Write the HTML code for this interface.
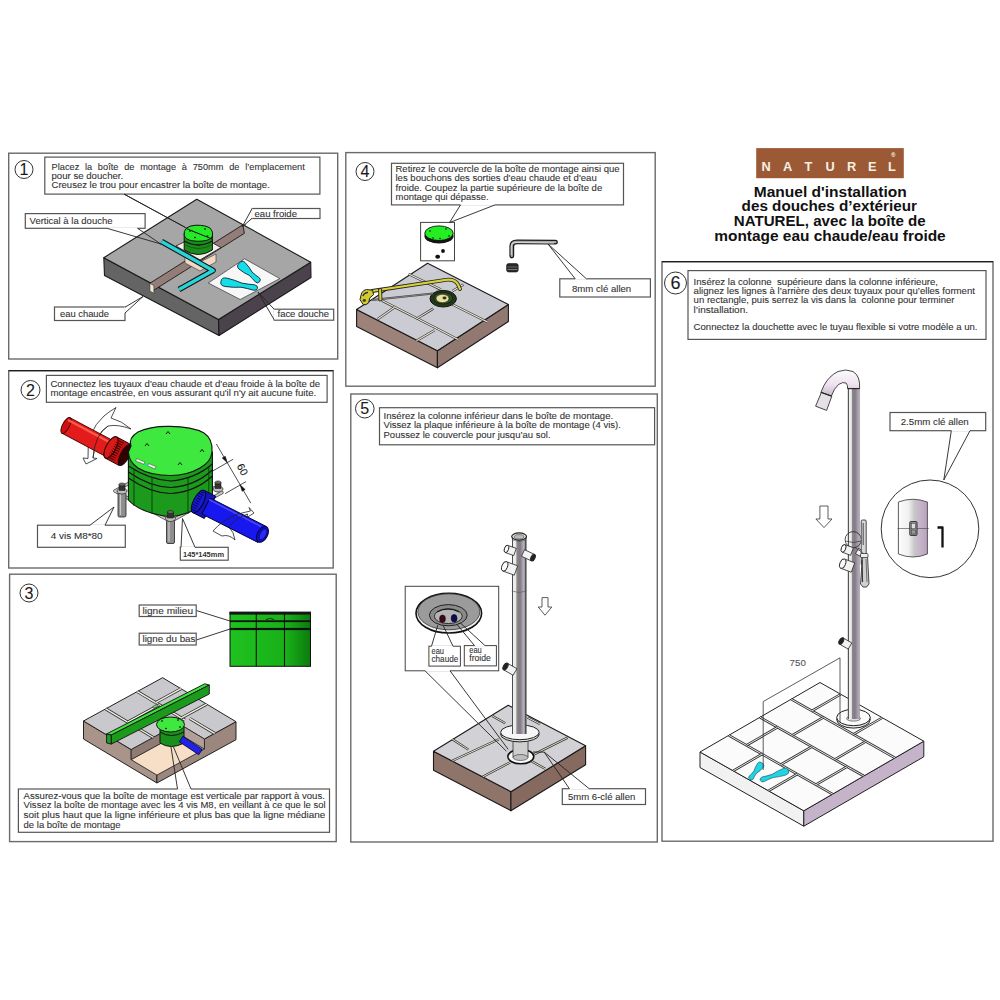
<!DOCTYPE html>
<html><head><meta charset="utf-8"><style>
html,body{margin:0;padding:0;background:#fff;}
svg{display:block;font-family:"Liberation Sans", sans-serif;}
text{white-space:pre;}
</style></head><body>
<svg width="1000" height="1000" viewBox="0 0 1000 1000">
<rect width="1000" height="1000" fill="#fff"/>
<rect x="8.7" y="153.2" width="329.0" height="205.8" fill="none" stroke="#6a6a6a" stroke-width="1.4"/>
<rect x="8.7" y="370.7" width="324.5" height="197.3" fill="none" stroke="#6a6a6a" stroke-width="1.4"/>
<rect x="9.6" y="574.2" width="326.6" height="267.4" fill="none" stroke="#6a6a6a" stroke-width="1.4"/>
<rect x="345.8" y="152.6" width="309.4" height="233.6" fill="none" stroke="#6a6a6a" stroke-width="1.4"/>
<rect x="350.8" y="394" width="306.5" height="448.0" fill="none" stroke="#6a6a6a" stroke-width="1.4"/>
<rect x="662" y="261.7" width="331.0" height="579.5" fill="none" stroke="#6a6a6a" stroke-width="1.4"/>
<line x1="662" y1="261.7" x2="993" y2="261.7" stroke="#1e1e1e" stroke-width="1.2"/>
<line x1="8.7" y1="370.7" x2="333.2" y2="370.7" stroke="#1e1e1e" stroke-width="1.2"/>
<rect x="756.2" y="148.1" width="147.6" height="30.1" fill="#9b5a35"/>
<text x="766" y="171.2" font-size="12.8" font-weight="bold" text-anchor="middle" fill="#f6efe6">N</text>
<text x="787.7" y="171.2" font-size="12.8" font-weight="bold" text-anchor="middle" fill="#f6efe6">A</text>
<text x="808.4" y="171.2" font-size="12.8" font-weight="bold" text-anchor="middle" fill="#f6efe6">T</text>
<text x="830" y="171.2" font-size="12.8" font-weight="bold" text-anchor="middle" fill="#f6efe6">U</text>
<text x="851.6" y="171.2" font-size="12.8" font-weight="bold" text-anchor="middle" fill="#f6efe6">R</text>
<text x="872.3" y="171.2" font-size="12.8" font-weight="bold" text-anchor="middle" fill="#f6efe6">E</text>
<text x="892" y="171.2" font-size="12.8" font-weight="bold" text-anchor="middle" fill="#f6efe6">L</text>
<text x="893.3" y="156.6" font-size="5.5" text-anchor="middle" fill="#f0e6da" stroke="#f0e6da" stroke-width="0.1">®</text>
<text x="753.8" y="196.6" font-size="13.8" textLength="152.9" lengthAdjust="spacingAndGlyphs" font-weight="bold" fill="#111">Manuel d'installation</text>
<text x="741.6" y="211.4" font-size="13.8" textLength="175.4" lengthAdjust="spacingAndGlyphs" font-weight="bold" fill="#111">des douches d’extérieur</text>
<text x="733.8" y="226.2" font-size="13.8" textLength="191.9" lengthAdjust="spacingAndGlyphs" font-weight="bold" fill="#111">NATUREL, avec la boîte de</text>
<text x="714.3" y="241.3" font-size="13.8" textLength="231.4" lengthAdjust="spacingAndGlyphs" font-weight="bold" fill="#111">montage eau chaude/eau froide</text>
<polygon points="103.8,257.7 218.5,319.5 219.0,335.5 104.5,275.5" fill="#646464" stroke="#1a1a1a" stroke-width="1.1" stroke-linejoin="round"/>
<polygon points="218.5,319.5 310.7,262.2 311.0,277.5 219.0,335.5" fill="#4b434b" stroke="#1a1a1a" stroke-width="1.1" stroke-linejoin="round"/>
<polygon points="196.8,199.3 310.7,262.2 218.5,319.5 103.8,257.7" fill="#a6a6a6" stroke="#1a1a1a" stroke-width="1.1" stroke-linejoin="round"/>
<polygon points="242.9,224.8 149.9,283.2 151.4,291.7 244.4,233.3" fill="#947c79" stroke="#1a1a1a" stroke-width="0.9" stroke-linejoin="round"/>
<polygon points="149.9,283.2 153.9,285.7 153.9,293.2 149.9,291.2" fill="#efe6d6" stroke="#333" stroke-width="0.6" stroke-linejoin="round"/>
<polygon points="242.9,224.8 245.9,226.3 245.9,224.3" fill="#555" stroke="none" stroke-width="0" stroke-linejoin="round"/>
<polygon points="176.0,246.0 198.0,235.0 221.0,247.5 200.0,260.0" fill="#f4efe6" stroke="#222" stroke-width="0.9" stroke-linejoin="round"/>
<polygon points="185.0,255.0 200.0,262.0 216.0,254.0 216.0,262.0 200.0,271.0 185.0,263.0" fill="#f0d9c4" stroke="#333" stroke-width="0.6" stroke-linejoin="round"/>
<path d="M184.2,233 L184.2,250 Q198.3,259 212.4,250 L212.4,233 Z" fill="#1b8c1b" stroke="#111" stroke-width="1"/>
<path d="M184.2,241 Q198.3,249 212.4,241" fill="none" stroke="#111" stroke-width="1.4"/>
<path d="M184.2,244.5 Q198.3,252.5 212.4,244.5" fill="none" stroke="#0b3d10" stroke-width="0.6"/>
<path d="M186,228.5 Q189,225.5 196,225.2 Q206,225 210.5,228.5 Q213.5,232 212.4,236 Q211,240 203,241 Q198,241.6 192,240.8 Q185.5,239.5 184.3,235.5 Q183.6,231 186,228.5 Z" fill="#26ea26" stroke="#111" stroke-width="1"/>
<line x1="186.4" y1="228.6" x2="212" y2="239" stroke="#111" stroke-width="1.0"/>
<ellipse cx="190" cy="231" rx="1" ry="0.7" fill="#111" stroke="none" stroke-width="0"/>
<ellipse cx="205" cy="229" rx="1" ry="0.7" fill="#111" stroke="none" stroke-width="0"/>
<ellipse cx="195" cy="237.5" rx="1" ry="0.7" fill="#111" stroke="none" stroke-width="0"/>
<ellipse cx="207.5" cy="236" rx="1" ry="0.7" fill="#111" stroke="none" stroke-width="0"/>
<polyline points="161.5,241.5 213.0,270.5 179.0,289.5" fill="none" stroke="#111" stroke-width="5.6" stroke-linejoin="round"/>
<polyline points="161.5,241.5 213.0,270.5 179.0,289.5" fill="none" stroke="#27d4d8" stroke-width="3.6" stroke-linejoin="round"/>
<polygon points="208.3,283.0 244.6,258.8 279.8,278.6 240.2,299.5" fill="#f7f7f7" stroke="#333" stroke-width="0.7" stroke-linejoin="round"/>
<path d="M239.0,269.1 Q243.9,273.0 249.0,275.2 Q252.9,278.8 255.6,282.1 Q257.5,283.8 259.5,281.8 Q261.3,279.6 259.4,277.9 Q255.9,275.5 252.0,272.0 Q249.4,267.1 245.0,262.5 Q241.9,259.6 239.2,263.2 Q235.9,266.3 239.0,269.1 Z" fill="#14dfe9" stroke="#123" stroke-width="0.9"/>
<path d="M225.2,286.5 Q233.7,287.7 241.0,287.2 Q248.0,288.5 253.5,290.2 Q256.9,290.8 257.6,288.2 Q257.9,285.5 254.5,284.8 Q248.8,284.4 241.8,283.1 Q235.1,280.1 226.8,278.1 Q221.2,277.0 221.0,281.4 Q219.6,285.5 225.2,286.5 Z" fill="#14dfe9" stroke="#123" stroke-width="0.9"/>
<line x1="185.5" y1="227.5" x2="196" y2="233" stroke="#222" stroke-width="0.8" stroke-dasharray="2,1.5"/>
<path d="M86,464 L83,458 L88,458.5 Q86,432 104,416 Q110,411 116,407.5 L111,418 Q122,421 131,429 Q118,424 108,426 Q95,434 93,458 L97,458.5 Z" fill="#fff" stroke="#222" stroke-width="0.8"/>
<polygon points="61.9,433.2 109.9,458.7 118.1,443.3 70.1,417.8" fill="#e41b1b" stroke="#3a0000" stroke-width="0.9" stroke-linejoin="round"/>
<ellipse cx="66" cy="425.5" rx="3.5" ry="8.8" fill="#d01010" stroke="#3a0000" stroke-width="0.9" transform="rotate(28 66 425.5)"/>
<polyline points="68.0,420.0 112.0,443.5" fill="none" stroke="#ff5a4a" stroke-width="2" stroke-linejoin="round"/>
<polygon points="105.3,458.1 119.3,465.6 130.7,444.4 116.7,436.9" fill="#c41010" stroke="#220000" stroke-width="1" stroke-linejoin="round"/>
<ellipse cx="111" cy="447.5" rx="5" ry="12" transform="rotate(28 111 447.5)" fill="#d81a1a" stroke="#220000" stroke-width="1"/>
<line x1="117.3" y1="440.0" x2="123.5" y2="443.3" stroke="#3a0000" stroke-width="1.0"/>
<line x1="116.2" y1="442.1" x2="122.3" y2="445.4" stroke="#3a0000" stroke-width="1.0"/>
<line x1="115.0" y1="444.2" x2="121.2" y2="447.5" stroke="#3a0000" stroke-width="1.0"/>
<line x1="113.9" y1="446.3" x2="120.1" y2="449.6" stroke="#3a0000" stroke-width="1.0"/>
<line x1="112.8" y1="448.4" x2="118.9" y2="451.7" stroke="#3a0000" stroke-width="1.0"/>
<line x1="111.6" y1="450.6" x2="117.8" y2="453.9" stroke="#3a0000" stroke-width="1.0"/>
<line x1="110.5" y1="452.7" x2="116.7" y2="456.0" stroke="#3a0000" stroke-width="1.0"/>
<line x1="109.4" y1="454.8" x2="115.5" y2="458.1" stroke="#3a0000" stroke-width="1.0"/>
<line x1="108.2" y1="456.9" x2="114.4" y2="460.2" stroke="#3a0000" stroke-width="1.0"/>
<ellipse cx="125" cy="455" rx="4.5" ry="11.5" transform="rotate(28 125 455)" fill="#300" stroke="#111" stroke-width="1"/>
<path d="M93,458 Q95,434 108,426" fill="none" stroke="#222" stroke-width="0.8"/>
<polygon points="114.8,491.0 170.8,521.5 222.0,492.5 166.0,463.0" fill="none" stroke="#555" stroke-width="3.2" stroke-linejoin="round"/>
<polygon points="114.8,491.0 170.8,521.5 222.0,492.5 166.0,463.0" fill="none" stroke="#cfcfcf" stroke-width="1.6" stroke-linejoin="round"/>
<rect x="118" y="492" width="8" height="25" rx="1.5" fill="#8d8d8d" stroke="#222" stroke-width="0.8"/>
<line x1="120.5" y1="494" x2="120.5" y2="515" stroke="#c8c8c8" stroke-width="1.2"/>
<rect x="166.5" y="520" width="8" height="23.5" rx="1.5" fill="#8d8d8d" stroke="#222" stroke-width="0.8"/>
<line x1="169.0" y1="522" x2="169.0" y2="541.5" stroke="#c8c8c8" stroke-width="1.2"/>
<ellipse cx="122" cy="491.0" rx="5" ry="3" fill="#bdbdbd" stroke="#222" stroke-width="0.7"/>
<rect x="119" y="484.5" width="6" height="6" fill="#333" stroke="#111" stroke-width="0.5"/>
<ellipse cx="122" cy="484.5" rx="3" ry="1.6" fill="#666" stroke="#111" stroke-width="0.5"/>
<ellipse cx="218" cy="489.0" rx="5" ry="3" fill="#bdbdbd" stroke="#222" stroke-width="0.7"/>
<rect x="215" y="482.5" width="6" height="6" fill="#333" stroke="#111" stroke-width="0.5"/>
<ellipse cx="218" cy="482.5" rx="3" ry="1.6" fill="#666" stroke="#111" stroke-width="0.5"/>
<path d="M128.4,452 L128.4,500 Q140,513 170.8,517 Q200,512 212.4,496 L212.4,452 Z" fill="#1c9a1c" stroke="#111" stroke-width="1.1"/>
<path d="M128.4,466 Q150,480 170.8,481 Q195,479 212.4,464" fill="none" stroke="#111" stroke-width="1.2"/>
<path d="M128.4,472 Q150,487 170.8,487.5 Q195,486 212.4,470" fill="none" stroke="#111" stroke-width="1.2"/>
<path d="M128.4,478 Q150,493 170.8,493.5 Q195,492 212.4,476" fill="none" stroke="#111" stroke-width="1.1"/>
<line x1="134" y1="470" x2="134" y2="506" stroke="#0a3a0a" stroke-width="0.9"/>
<line x1="152" y1="478" x2="152" y2="514" stroke="#0a3a0a" stroke-width="0.9"/>
<line x1="188" y1="478" x2="188" y2="514" stroke="#0a3a0a" stroke-width="0.9"/>
<line x1="208.8" y1="466" x2="208.8" y2="500" stroke="#0a3a0a" stroke-width="0.9"/>
<path d="M131,446 Q128,438 138,432 Q150,426 170,426.4 Q192,426.5 204,433 Q213,439 212,452 Q211,462 200,468 Q187,475.5 170.8,475.5 Q150,475.5 138,468 Q129,462 128.4,452 Z" fill="#3fe83f" stroke="#111" stroke-width="1.1"/>
<ellipse cx="170.5" cy="518.5" rx="5" ry="3" fill="#bdbdbd" stroke="#222" stroke-width="0.7"/>
<rect x="167.5" y="512" width="6" height="6" fill="#333" stroke="#111" stroke-width="0.5"/>
<ellipse cx="170.5" cy="512" rx="3" ry="1.6" fill="#666" stroke="#111" stroke-width="0.5"/>
<rect x="136" y="460" width="9" height="2.6" fill="#f5f5f5" stroke="#222" stroke-width="0.4" transform="rotate(22 140 461)"/>
<rect x="148" y="465" width="8" height="2.6" fill="#f5f5f5" stroke="#222" stroke-width="0.4" transform="rotate(22 152 466)"/>
<ellipse cx="146.5" cy="465" rx="1.2" ry="1" fill="#2cc" stroke="none" stroke-width="0"/>
<path d="M166,434 L168,431.5 L170,434" fill="none" stroke="#111" stroke-width="1"/>
<path d="M145,446 L147,443.5 L149,446" fill="none" stroke="#111" stroke-width="1"/>
<path d="M200,452 L202,449.5 L204,452" fill="none" stroke="#111" stroke-width="1"/>
<path d="M178,465 L180,462.5 L182,465" fill="none" stroke="#111" stroke-width="1"/>
<polygon points="192.8,512.6 204.3,518.5 215.7,496.3 204.2,490.4" fill="#1414b8" stroke="#000030" stroke-width="1" stroke-linejoin="round"/>
<ellipse cx="198.5" cy="501.5" rx="5" ry="12.5" transform="rotate(27 198.5 501.5)" fill="#1a1ad0" stroke="#000030" stroke-width="1"/>
<line x1="200.4" y1="491.2" x2="204.4" y2="493.3" stroke="#000050" stroke-width="1.0"/>
<line x1="199.3" y1="493.5" x2="203.3" y2="495.5" stroke="#000050" stroke-width="1.0"/>
<line x1="198.1" y1="495.7" x2="202.1" y2="497.7" stroke="#000050" stroke-width="1.0"/>
<line x1="197.0" y1="497.9" x2="201.0" y2="500.0" stroke="#000050" stroke-width="1.0"/>
<line x1="195.8" y1="500.1" x2="199.8" y2="502.2" stroke="#000050" stroke-width="1.0"/>
<line x1="194.7" y1="502.4" x2="198.7" y2="504.4" stroke="#000050" stroke-width="1.0"/>
<line x1="193.5" y1="504.6" x2="197.6" y2="506.6" stroke="#000050" stroke-width="1.0"/>
<line x1="192.4" y1="506.8" x2="196.4" y2="508.9" stroke="#000050" stroke-width="1.0"/>
<line x1="191.3" y1="509.0" x2="195.3" y2="511.1" stroke="#000050" stroke-width="1.0"/>
<polygon points="201.9,514.0 257.9,542.4 266.1,526.4 210.1,498.0" fill="#1818ee" stroke="#000030" stroke-width="1.0" stroke-linejoin="round"/>
<polyline points="209.0,499.5 261.0,526.5" fill="none" stroke="#4848ff" stroke-width="1.6" stroke-linejoin="round"/>
<ellipse cx="262.5" cy="534.4" rx="5" ry="8.6" fill="#1010c8" stroke="#000040" stroke-width="1" transform="rotate(28 262.5 534.4)"/>
<ellipse cx="263" cy="534.4" rx="3" ry="6" fill="#2b2bf0" stroke="#000060" stroke-width="0.6" transform="rotate(28 263 534.4)"/>
<path d="M213,531 Q222,520 238,514 Q246,512 250.5,511 L249,507.5 L254,513 L247,517.5 L247.5,514 Q236,518 229,527 Q234,532 235,540 Q229,534 222,536 Z" fill="none" stroke="#222" stroke-width="0.8"/>
<line x1="212.4" y1="471.2" x2="233.2" y2="459.2" stroke="#222" stroke-width="0.8"/>
<line x1="225.2" y1="493.6" x2="246" y2="481.6" stroke="#222" stroke-width="0.8"/>
<line x1="216.4" y1="444" x2="250.8" y2="503.2" stroke="#222" stroke-width="0.8"/>
<polygon points="227.2,462.6 225.3,456.2 222.2,458.0" fill="#111" stroke="#111" stroke-width="0.5" stroke-linejoin="round"/>
<polygon points="240.2,484.9 242.1,491.3 245.2,489.5" fill="#111" stroke="#111" stroke-width="0.5" stroke-linejoin="round"/>
<text x="0" y="0" font-size="10.5" fill="#222" stroke="#222" stroke-width="0.1" transform="translate(236.5,466) rotate(62)">60</text>
<defs><linearGradient id="g3" x1="0" x2="1" y1="0" y2="0"><stop offset="0" stop-color="#1fc21f"/><stop offset="0.7" stop-color="#18b018"/><stop offset="1" stop-color="#0d7a0d"/></linearGradient></defs>
<rect x="230" y="612.5" width="80.5" height="53.8" fill="url(#g3)" stroke="#111" stroke-width="1"/>
<rect x="229.5" y="611.6" width="81.5" height="3.0" fill="#161616"/>
<rect x="230" y="620.3" width="80.5" height="1.8" fill="#111"/>
<rect x="230" y="627.9" width="80.5" height="2.2" fill="#111"/>
<line x1="256.3" y1="612" x2="256.3" y2="666" stroke="#111" stroke-width="1.1"/>
<line x1="284.5" y1="612" x2="284.5" y2="666" stroke="#111" stroke-width="1.1"/>
<path d="M266,619.6 Q270,617 274,619.6" fill="none" stroke="#111" stroke-width="0.8"/>
<line x1="196.3" y1="610.5" x2="230" y2="621" stroke="#222" stroke-width="0.9"/>
<line x1="196.3" y1="640" x2="230" y2="629" stroke="#222" stroke-width="0.9"/>
<polygon points="83.5,721.0 131.2,749.6 131.2,759.6 156.9,775.0 156.9,783.0 83.5,739.0" fill="#a89489" stroke="#222" stroke-width="1" stroke-linejoin="round"/>
<polygon points="236.0,721.7 204.4,739.0 204.4,749.0 156.9,775.0 156.9,783.0 236.0,739.7" fill="#9b877e" stroke="#222" stroke-width="1" stroke-linejoin="round"/>
<polygon points="162.6,677.7 236.0,721.7 204.4,739.0 178.7,723.6 131.2,749.6 83.5,721.0" fill="#c9c9cd" stroke="#222" stroke-width="1" stroke-linejoin="round"/>
<polygon points="178.7,733.6 204.4,749.0 156.9,775.0 131.2,759.6" fill="#f6dfc6" stroke="#333" stroke-width="0.7" stroke-linejoin="round"/>
<polygon points="178.7,723.6 131.2,749.6 131.2,759.6 178.7,733.6" fill="#8e7c74" stroke="#222" stroke-width="0.8" stroke-linejoin="round"/>
<polygon points="178.7,723.6 204.4,739.0 204.4,749.0 178.7,733.6" fill="#b2a096" stroke="#222" stroke-width="0.8" stroke-linejoin="round"/>
<line x1="137.288" y1="691.556" x2="184.998" y2="720.1560000000001" stroke="#333" stroke-width="3.0"/>
<line x1="137.288" y1="691.556" x2="184.998" y2="720.1560000000001" stroke="#f1eee4" stroke-width="1.4"/>
<line x1="180.95" y1="688.7" x2="155.63799999999998" y2="702.556" stroke="#333" stroke-width="3.0"/>
<line x1="180.95" y1="688.7" x2="155.63799999999998" y2="702.556" stroke="#f1eee4" stroke-width="1.4"/>
<line x1="206.64" y1="704.1" x2="181.32799999999997" y2="717.956" stroke="#333" stroke-width="3.0"/>
<line x1="206.64" y1="704.1" x2="181.32799999999997" y2="717.956" stroke="#f1eee4" stroke-width="1.4"/>
<line x1="189.68699999999998" y1="718.431" x2="214.643" y2="733.3910000000001" stroke="#333" stroke-width="3.0"/>
<line x1="189.68699999999998" y1="718.431" x2="214.643" y2="733.3910000000001" stroke="#f1eee4" stroke-width="1.4"/>
<line x1="105.648" y1="708.8760000000001" x2="153.358" y2="737.4760000000001" stroke="#333" stroke-width="3.0"/>
<line x1="105.648" y1="708.8760000000001" x2="153.358" y2="737.4760000000001" stroke="#f1eee4" stroke-width="1.4"/>
<line x1="159.308" y1="704.7560000000001" x2="127.668" y2="722.0760000000001" stroke="#333" stroke-width="3.0"/>
<line x1="159.308" y1="704.7560000000001" x2="127.668" y2="722.0760000000001" stroke="#f1eee4" stroke-width="1.4"/>
<polygon points="106.6,733.9 204.7,683.8 209.3,685.0 111.2,735.1" fill="#3ee03e" stroke="#111" stroke-width="0.9" stroke-linejoin="round"/>
<polygon points="111.2,735.1 209.3,685.0 209.3,694.0 111.2,744.1" fill="#1c9a1c" stroke="#111" stroke-width="0.9" stroke-linejoin="round"/>
<polygon points="106.6,733.9 111.2,735.1 111.2,744.1 106.6,742.9" fill="#1d9e1d" stroke="#111" stroke-width="0.9" stroke-linejoin="round"/>
<rect x="153" y="705.5" width="5" height="2" fill="#7bd87b" stroke="#111" stroke-width="0.4" transform="rotate(-28 155 706.5)"/>
<path d="M160,727 L160,743 Q171,750 184,743 L184,727 Z" fill="#1b8f1b" stroke="#111" stroke-width="1"/>
<path d="M160,732 Q171,739 184,732" fill="none" stroke="#111" stroke-width="1"/>
<polygon points="179.2,741.7 198.7,754.7 202.3,749.3 182.8,736.3" fill="#2222e0" stroke="#000040" stroke-width="0.8" stroke-linejoin="round"/>
<ellipse cx="170.5" cy="724.5" rx="14" ry="7.5" fill="#3ee83e" stroke="#111" stroke-width="1"/>
<ellipse cx="162" cy="721" rx="1" ry="0.8" fill="#111" stroke="none" stroke-width="0"/>
<ellipse cx="178" cy="720" rx="1" ry="0.8" fill="#111" stroke="none" stroke-width="0"/>
<ellipse cx="166" cy="728.5" rx="1" ry="0.8" fill="#111" stroke="none" stroke-width="0"/>
<ellipse cx="180" cy="727" rx="1" ry="0.8" fill="#111" stroke="none" stroke-width="0"/>
<polygon points="356.6,309.5 437.4,350.7 437.4,367.7 356.6,326.5" fill="#9c8279" stroke="#1a1a1a" stroke-width="1.1" stroke-linejoin="round"/>
<polygon points="508.4,304.5 437.4,350.7 437.4,367.7 508.4,321.5" fill="#917870" stroke="#1a1a1a" stroke-width="1.1" stroke-linejoin="round"/>
<polygon points="427.6,263.3 508.4,304.5 437.4,350.7 356.6,309.5" fill="#cbcbd3" stroke="#1a1a1a" stroke-width="1.1" stroke-linejoin="round"/>
<line x1="408.5" y1="274" x2="441" y2="289.6" stroke="#333" stroke-width="2.4"/>
<line x1="408.5" y1="274" x2="441" y2="289.6" stroke="#ece6d2" stroke-width="1.1"/>
<line x1="452" y1="304.3" x2="487.5" y2="322" stroke="#333" stroke-width="2.4"/>
<line x1="452" y1="304.3" x2="487.5" y2="322" stroke="#ece6d2" stroke-width="1.1"/>
<line x1="437" y1="290" x2="449" y2="296" stroke="#333" stroke-width="2.4"/>
<line x1="437" y1="290" x2="449" y2="296" stroke="#ece6d2" stroke-width="1.1"/>
<line x1="382" y1="300.6" x2="437.4" y2="328.8" stroke="#333" stroke-width="2.4"/>
<line x1="382" y1="300.6" x2="437.4" y2="328.8" stroke="#ece6d2" stroke-width="1.1"/>
<line x1="437.4" y1="328.8" x2="458" y2="339.5" stroke="#333" stroke-width="2.4"/>
<line x1="437.4" y1="328.8" x2="458" y2="339.5" stroke="#ece6d2" stroke-width="1.1"/>
<line x1="394.6" y1="307.2" x2="377.5" y2="319.2" stroke="#333" stroke-width="2.4"/>
<line x1="394.6" y1="307.2" x2="377.5" y2="319.2" stroke="#ece6d2" stroke-width="1.1"/>
<line x1="433.3" y1="308.6" x2="416.2" y2="319" stroke="#333" stroke-width="2.4"/>
<line x1="433.3" y1="308.6" x2="416.2" y2="319" stroke="#ece6d2" stroke-width="1.1"/>
<line x1="434.5" y1="330.2" x2="416.5" y2="340.8" stroke="#333" stroke-width="2.4"/>
<line x1="434.5" y1="330.2" x2="416.5" y2="340.8" stroke="#ece6d2" stroke-width="1.1"/>
<line x1="463.5" y1="284.5" x2="452.5" y2="291" stroke="#333" stroke-width="2.4"/>
<line x1="463.5" y1="284.5" x2="452.5" y2="291" stroke="#ece6d2" stroke-width="1.1"/>
<ellipse cx="443.2" cy="298.7" rx="13.2" ry="8.3" fill="#233a1a" stroke="#111" stroke-width="1"/>
<ellipse cx="443.2" cy="298.2" rx="9.5" ry="5.8" fill="#2f4a22" stroke="#111" stroke-width="0.6"/>
<ellipse cx="442.5" cy="298.5" rx="6.5" ry="4.2" fill="#e6e29a" stroke="#222" stroke-width="0.6"/>
<ellipse cx="444.5" cy="298" rx="2" ry="1.4" fill="#333" stroke="none" stroke-width="0"/>
<line x1="372" y1="300" x2="433" y2="293.5" stroke="#444" stroke-width="1.8"/>
<line x1="372" y1="300" x2="433" y2="293.5" stroke="#aaa" stroke-width="0.6"/>
<path d="M372,291 L446,279.8 Q455,279 458,284.5 L460,289" fill="none" stroke="#222" stroke-width="3.8" stroke-linecap="round" stroke-linejoin="round"/>
<path d="M372,291 L446,279.8 Q455,279 458,284.5 L460,289" fill="none" stroke="#d8d034" stroke-width="2.2" stroke-linecap="round" stroke-linejoin="round"/>
<path d="M378.5,289 L381.5,288.5 L382,300.5 L379,301 Z" fill="#d8d034" stroke="#222" stroke-width="0.9"/>
<path d="M360,299.6 L361.6,293 Q363.5,289.8 366.5,289.5 L372.5,290.2 L373.6,294.6 L369.8,297.9 L368.6,302.9 Q366,305.5 363.2,304.6 Z" fill="#d2ca30" stroke="#222" stroke-width="1"/>
<path d="M362.8,296 Q364.5,292.5 368,292.5" fill="none" stroke="#333" stroke-width="1.4"/>
<ellipse cx="364.3" cy="300.4" rx="1.6" ry="1.4" fill="#3a3a20" stroke="none" stroke-width="0"/>
<rect x="420.6" y="222.4" width="33.9" height="38.4" fill="#fff" stroke="#444" stroke-width="1"/>
<ellipse cx="439" cy="236" rx="14.6" ry="7.6" fill="#151515" stroke="none" stroke-width="0"/>
<ellipse cx="439" cy="233.2" rx="14.2" ry="7.3" fill="#22ee22" stroke="#111" stroke-width="0.9"/>
<ellipse cx="430" cy="231" rx="0.9" ry="0.7" fill="#111" stroke="none" stroke-width="0"/>
<ellipse cx="446" cy="229" rx="0.9" ry="0.7" fill="#111" stroke="none" stroke-width="0"/>
<ellipse cx="449" cy="236" rx="0.9" ry="0.7" fill="#111" stroke="none" stroke-width="0"/>
<ellipse cx="433" cy="238" rx="0.9" ry="0.7" fill="#111" stroke="none" stroke-width="0"/>
<ellipse cx="440" cy="238.5" rx="0.9" ry="0.7" fill="#111" stroke="none" stroke-width="0"/>
<ellipse cx="443" cy="251" rx="1.9" ry="2.1" fill="#111" stroke="none" stroke-width="0"/>
<ellipse cx="437.7" cy="256.8" rx="2.4" ry="2" fill="#111" stroke="none" stroke-width="0"/>
<path d="M511.8,256 L511.8,246 Q511.8,241.8 517,241.8 L555.5,242.2" fill="none" stroke="#1a1a1a" stroke-width="4.8" stroke-linecap="round"/>
<path d="M511.8,256 L511.8,246 Q511.8,241.8 517,241.8 L555.5,242.2" fill="none" stroke="#a8a8a8" stroke-width="2.2" stroke-linecap="round"/>
<path d="M511.2,255 L511.2,246 Q511.2,242.6 515,242.6 L554,243" fill="none" stroke="#e8e8e8" stroke-width="0.8"/>
<rect x="506.6" y="263.6" width="11.6" height="8.4" rx="2" fill="#2a2a2a" stroke="#111" stroke-width="0.6"/>
<line x1="507.5" y1="267" x2="517.5" y2="267" stroke="#777" stroke-width="0.8"/>
<line x1="507.5" y1="269.5" x2="517.5" y2="269.5" stroke="#999" stroke-width="0.7"/>
<polygon points="433.5,751.2 510.9,791.7 510.9,810.7 433.5,770.2" fill="#8f746a" stroke="#1a1a1a" stroke-width="1.1" stroke-linejoin="round"/>
<polygon points="585.6,745.8 510.9,791.7 510.9,810.7 585.6,764.8" fill="#86695f" stroke="#1a1a1a" stroke-width="1.1" stroke-linejoin="round"/>
<polygon points="508.2,705.3 585.6,745.8 510.9,791.7 433.5,751.2" fill="#d2d2d6" stroke="#1a1a1a" stroke-width="1.1" stroke-linejoin="round"/>
<line x1="567.6" y1="737.6" x2="534" y2="754.4" stroke="#333" stroke-width="2.3"/>
<line x1="567.6" y1="737.6" x2="534" y2="754.4" stroke="#eae4cc" stroke-width="1.0"/>
<line x1="498.8" y1="739.2" x2="452.4" y2="760.8" stroke="#333" stroke-width="2.3"/>
<line x1="498.8" y1="739.2" x2="452.4" y2="760.8" stroke="#eae4cc" stroke-width="1.0"/>
<line x1="452.4" y1="739.2" x2="468.4" y2="749.6" stroke="#333" stroke-width="2.3"/>
<line x1="452.4" y1="739.2" x2="468.4" y2="749.6" stroke="#eae4cc" stroke-width="1.0"/>
<line x1="492.4" y1="716" x2="505.2" y2="723.2" stroke="#333" stroke-width="2.3"/>
<line x1="492.4" y1="716" x2="505.2" y2="723.2" stroke="#eae4cc" stroke-width="1.0"/>
<line x1="482.8" y1="776.8" x2="510" y2="762.4" stroke="#333" stroke-width="2.3"/>
<line x1="482.8" y1="776.8" x2="510" y2="762.4" stroke="#eae4cc" stroke-width="1.0"/>
<line x1="530.8" y1="760.8" x2="545.2" y2="768.8" stroke="#333" stroke-width="2.3"/>
<line x1="530.8" y1="760.8" x2="545.2" y2="768.8" stroke="#eae4cc" stroke-width="1.0"/>
<line x1="527.6" y1="717.6" x2="540" y2="724" stroke="#333" stroke-width="2.3"/>
<line x1="527.6" y1="717.6" x2="540" y2="724" stroke="#eae4cc" stroke-width="1.0"/>
<ellipse cx="520.8" cy="756.6" rx="13" ry="7.2" fill="#fafafa" stroke="#111" stroke-width="1.6"/>
<rect x="513" y="738" width="15" height="19" fill="#cfcfcf" stroke="#333" stroke-width="0.8"/>
<ellipse cx="520.5" cy="757.5" rx="7.5" ry="3" fill="#bdbdbd" stroke="#333" stroke-width="0.6"/>
<ellipse cx="519.9" cy="734.3" rx="19.3" ry="7.6" fill="#e0e0e0" stroke="#222" stroke-width="1"/>
<ellipse cx="519.9" cy="732.3" rx="19.3" ry="7.4" fill="#f6f6f6" stroke="#222" stroke-width="1"/>
<defs><linearGradient id="pg5" x1="0" x2="1"><stop offset="0" stop-color="#444"/><stop offset="0.07" stop-color="#555"/><stop offset="0.1" stop-color="#eeeef0"/><stop offset="0.27" stop-color="#e8e8ea"/><stop offset="0.33" stop-color="#8a8a88"/><stop offset="0.55" stop-color="#807880"/><stop offset="0.8" stop-color="#b8b0c0"/><stop offset="0.88" stop-color="#9a949c"/><stop offset="0.93" stop-color="#4a4a4a"/><stop offset="1" stop-color="#555"/></linearGradient></defs>
<rect x="512" y="536" width="14.6" height="198" fill="url(#pg5)"/>
<ellipse cx="519.1" cy="536.5" rx="7.4" ry="3.6" fill="#e8e8e8" stroke="#222" stroke-width="1.2"/>
<ellipse cx="519.1" cy="536.8" rx="4.8" ry="2.2" fill="#bbb" stroke="#444" stroke-width="0.6"/>
<path d="M511.7,591 Q519,594 526.5,591" fill="none" stroke="#555" stroke-width="0.6"/>
<path d="M511.7,540 Q519,543 526.5,540" fill="none" stroke="#555" stroke-width="0.5"/>
<polygon points="516.3,548.4 507.8,545.4 505.2,552.5 513.7,555.6" fill="#f2f2f2" stroke="#222" stroke-width="0.8" stroke-linejoin="round"/>
<ellipse cx="506.5" cy="548.9" rx="2.1" ry="3.8" transform="rotate(200 506.5 548.9)" fill="#fafafa" stroke="#222" stroke-width="0.9"/>
<polygon points="521.5,556.3 531.4,560.9 534.5,554.4 524.5,549.7" fill="#f2f2f2" stroke="#222" stroke-width="0.8" stroke-linejoin="round"/>
<ellipse cx="533.0" cy="557.6" rx="2.0" ry="3.6" transform="rotate(25 533.0 557.6)" fill="#222" stroke="#222" stroke-width="0.9"/>
<polygon points="517.7,565.8 506.4,561.7 503.0,571.1 514.3,575.2" fill="#f2f2f2" stroke="#222" stroke-width="0.8" stroke-linejoin="round"/>
<ellipse cx="504.7" cy="566.4" rx="2.8" ry="5.0" transform="rotate(200 504.7 566.4)" fill="#fafafa" stroke="#222" stroke-width="0.9"/>
<polygon points="516.9,668.7 507.4,663.2 503.6,669.8 513.1,675.3" fill="#f2f2f2" stroke="#222" stroke-width="0.8" stroke-linejoin="round"/>
<ellipse cx="505.5" cy="666.5" rx="2.1" ry="3.8" transform="rotate(210 505.5 666.5)" fill="#222" stroke="#222" stroke-width="0.9"/>
<path d="M542,597.6 L548,597.6 L548,607 L551.8,607 L545,615.2 L538.2,607 L542,607 Z" fill="#fff" stroke="#333" stroke-width="0.8" stroke-linejoin="round"/>
<rect x="405.2" y="586.3" width="93.5" height="84.5" fill="#fff" stroke="#444" stroke-width="1"/>
<line x1="425" y1="670.8" x2="450" y2="670.8" stroke="#fff" stroke-width="1.6"/>
<polyline points="425.0,670.8 506.4,751.2" fill="none" stroke="#222" stroke-width="0.9" stroke-linejoin="round"/>
<polyline points="450.0,670.8 508.2,749.4" fill="none" stroke="#222" stroke-width="0.9" stroke-linejoin="round"/>
<ellipse cx="448.8" cy="613.2" rx="32.8" ry="19.8" fill="#f0f0f0" stroke="#111" stroke-width="1.6"/>
<ellipse cx="448.8" cy="611.8" rx="31" ry="18" fill="#9b9b9b" stroke="#333" stroke-width="0.8"/>
<ellipse cx="448.3" cy="615.2" rx="18.9" ry="10.6" fill="#8a8a8a" stroke="#222" stroke-width="1"/>
<ellipse cx="448.3" cy="616.2" rx="14" ry="7.4" fill="#b3b3b3" stroke="#222" stroke-width="0.9"/>
<path d="M437,612 Q448,606 459,612" fill="none" stroke="#111" stroke-width="1"/>
<ellipse cx="442.5" cy="618.8" rx="2.9" ry="3.8" fill="#3a0818" stroke="#200" stroke-width="0.6"/>
<ellipse cx="454.1" cy="618.3" rx="2.9" ry="3.8" fill="#0c0c50" stroke="#002" stroke-width="0.6"/>
<rect x="428.9" y="646.2" width="31.5" height="19.9" fill="#fff" stroke="#444" stroke-width="1"/>
<line x1="431.5" y1="646.2" x2="453" y2="646.2" stroke="#fff" stroke-width="1.6"/>
<polyline points="431.5,646.2 437.8,625.1" fill="none" stroke="#222" stroke-width="0.9" stroke-linejoin="round"/>
<polyline points="453.0,646.2 443.0,625.1" fill="none" stroke="#222" stroke-width="0.9" stroke-linejoin="round"/>
<rect x="464.3" y="645.6" width="32.1" height="20.3" fill="#fff" stroke="#444" stroke-width="1"/>
<line x1="474.5" y1="645.6" x2="485" y2="645.6" stroke="#fff" stroke-width="1.6"/>
<polyline points="474.5,645.6 456.7,624.1" fill="none" stroke="#222" stroke-width="0.9" stroke-linejoin="round"/>
<polyline points="485.0,645.6 460.4,623.0" fill="none" stroke="#222" stroke-width="0.9" stroke-linejoin="round"/>
<text x="431.5" y="653.6" font-size="8.8" textLength="12.5" lengthAdjust="spacingAndGlyphs" fill="#333" stroke="#333" stroke-width="0.1">eau</text>
<text x="431.5" y="661.5" font-size="8.8" textLength="26.8" lengthAdjust="spacingAndGlyphs" fill="#333" stroke="#333" stroke-width="0.1">chaude</text>
<text x="469.3" y="653.2" font-size="8.8" textLength="12.5" lengthAdjust="spacingAndGlyphs" fill="#333" stroke="#333" stroke-width="0.1">eau</text>
<text x="469.3" y="661.2" font-size="8.8" textLength="21.6" lengthAdjust="spacingAndGlyphs" fill="#333" stroke="#333" stroke-width="0.1">froide</text>
<line x1="533" y1="752" x2="544.2" y2="752.1" stroke="#222" stroke-width="0.9"/>
<polygon points="700.0,752.0 803.8,810.8 803.8,826.2 700.0,767.5" fill="#f1f1f1" stroke="#222" stroke-width="1" stroke-linejoin="round"/>
<polygon points="923.8,741.2 803.8,810.8 803.8,826.2 923.8,756.8" fill="#c5b3ca" stroke="#222" stroke-width="1" stroke-linejoin="round"/>
<polygon points="820.0,682.5 923.8,741.2 803.8,810.8 700.0,752.0" fill="#fbfbfb" stroke="#222" stroke-width="1" stroke-linejoin="round"/>
<line x1="791.2" y1="699.18" x2="894.95" y2="757.93" stroke="#333" stroke-width="2.6"/>
<line x1="791.2" y1="699.18" x2="894.95" y2="757.93" stroke="#e9e9e9" stroke-width="1.0"/>
<line x1="760.0" y1="717.25" x2="863.75" y2="776.0" stroke="#333" stroke-width="2.6"/>
<line x1="760.0" y1="717.25" x2="863.75" y2="776.0" stroke="#e9e9e9" stroke-width="1.0"/>
<line x1="728.8" y1="735.32" x2="832.55" y2="794.07" stroke="#333" stroke-width="2.6"/>
<line x1="728.8" y1="735.32" x2="832.55" y2="794.07" stroke="#e9e9e9" stroke-width="1.0"/>
<line x1="840.75" y1="694.25" x2="811.95" y2="710.93" stroke="#333" stroke-width="2.6"/>
<line x1="840.75" y1="694.25" x2="811.95" y2="710.93" stroke="#e9e9e9" stroke-width="1.0"/>
<line x1="882.25" y1="717.75" x2="853.45" y2="734.43" stroke="#333" stroke-width="2.6"/>
<line x1="882.25" y1="717.75" x2="853.45" y2="734.43" stroke="#e9e9e9" stroke-width="1.0"/>
<line x1="823.3625000000001" y1="717.3924999999999" x2="792.1625" y2="735.4625" stroke="#333" stroke-width="2.6"/>
<line x1="823.3625000000001" y1="717.3924999999999" x2="792.1625" y2="735.4625" stroke="#e9e9e9" stroke-width="1.0"/>
<line x1="865.9000000000001" y1="741.4799999999999" x2="834.7" y2="759.55" stroke="#333" stroke-width="2.6"/>
<line x1="865.9000000000001" y1="741.4799999999999" x2="834.7" y2="759.55" stroke="#e9e9e9" stroke-width="1.0"/>
<line x1="777.6375" y1="727.2375" x2="746.4375" y2="745.3075" stroke="#333" stroke-width="2.6"/>
<line x1="777.6375" y1="727.2375" x2="746.4375" y2="745.3075" stroke="#e9e9e9" stroke-width="1.0"/>
<line x1="811.875" y1="746.625" x2="780.675" y2="764.695" stroke="#333" stroke-width="2.6"/>
<line x1="811.875" y1="746.625" x2="780.675" y2="764.695" stroke="#e9e9e9" stroke-width="1.0"/>
<line x1="847.15" y1="766.6" x2="815.9499999999999" y2="784.6700000000001" stroke="#333" stroke-width="2.6"/>
<line x1="847.15" y1="766.6" x2="815.9499999999999" y2="784.6700000000001" stroke="#e9e9e9" stroke-width="1.0"/>
<line x1="762.0" y1="754.12" x2="733.2" y2="770.8" stroke="#333" stroke-width="2.6"/>
<line x1="762.0" y1="754.12" x2="733.2" y2="770.8" stroke="#e9e9e9" stroke-width="1.0"/>
<line x1="797.275" y1="774.095" x2="768.475" y2="790.775" stroke="#333" stroke-width="2.6"/>
<line x1="797.275" y1="774.095" x2="768.475" y2="790.775" stroke="#e9e9e9" stroke-width="1.0"/>
<path d="M757.7,763.2 Q755.1,767.1 753.9,771.1 Q751.5,774.3 749.0,776.3 Q747.9,777.8 749.8,779.4 Q751.9,780.8 753.0,779.3 Q754.3,776.3 756.6,773.2 Q760.2,771.0 763.3,767.4 Q765.2,764.9 762.2,763.0 Q759.6,760.7 757.7,763.2 Z" fill="#22d4e2" stroke="#145" stroke-width="0.6"/>
<path d="M783.3,768.5 Q777.0,771.1 772.1,774.3 Q766.7,776.2 762.2,776.9 Q759.6,777.8 760.2,780.3 Q761.2,782.6 763.8,781.7 Q767.9,779.4 773.2,777.5 Q779.1,777.0 785.7,775.1 Q790.0,773.6 788.4,770.4 Q787.6,767.0 783.3,768.5 Z" fill="#22d4e2" stroke="#145" stroke-width="0.6"/>
<ellipse cx="853.5" cy="719.5" rx="16.8" ry="8.6" fill="#e8e8e8" stroke="#222" stroke-width="1"/>
<ellipse cx="853.5" cy="717.5" rx="16.8" ry="8.2" fill="#fafafa" stroke="#222" stroke-width="1"/>
<ellipse cx="853.5" cy="718.5" rx="7" ry="2.6" fill="#ddd" stroke="#333" stroke-width="0.6"/>
<polyline points="763.2,770.0 763.2,701.6 840.0,657.8 840.0,722.0" fill="none" stroke="#333" stroke-width="0.8" stroke-linejoin="round"/>
<text x="789.6" y="665.6" font-size="9" textLength="16.2" lengthAdjust="spacingAndGlyphs" fill="#555" stroke="#555" stroke-width="0.1">750</text>
<defs><linearGradient id="pg6" x1="0" x2="1"><stop offset="0" stop-color="#555"/><stop offset="0.08" stop-color="#555"/><stop offset="0.12" stop-color="#f0f0f0"/><stop offset="0.3" stop-color="#eaeaea"/><stop offset="0.36" stop-color="#888"/><stop offset="0.6" stop-color="#857a88"/><stop offset="0.88" stop-color="#b2a6b6"/><stop offset="1" stop-color="#9a949c"/></linearGradient></defs>
<rect x="847.8" y="388" width="12" height="331" fill="url(#pg6)"/>
<defs><linearGradient id="gn" x1="0" x2="0" y1="0" y2="1"><stop offset="0" stop-color="#fdfcfd"/><stop offset="0.55" stop-color="#eee2ef"/><stop offset="1" stop-color="#c4bac6"/></linearGradient></defs>
<path d="M847.6,388.6 L859.6,388.6 Q860.5,376 853,371.5 Q846,368.5 838,371.5 Q829,376 824,385.4 L820.8,392.6 L831.4,396 Q834,388.5 838.5,384.5 Q843,381.5 846,383 Q848,385 847.6,388.6 Z" fill="url(#gn)" stroke="#333" stroke-width="0.9"/>
<line x1="847.6" y1="388.6" x2="859.6" y2="388.6" stroke="#222" stroke-width="1"/>
<path d="M821.4,392.4 L831.8,396.2 L826.6,410.4 L815.6,406.2 Z" fill="#e4e0e6" stroke="#333" stroke-width="0.9"/>
<line x1="821.4" y1="392.4" x2="831.8" y2="396.2" stroke="#222" stroke-width="1.1"/>
<circle cx="853.2" cy="539.7" r="8.1" fill="none" stroke="#222" stroke-width="0.8"/>
<path d="M845.5,541 Q853,544 861,541" fill="none" stroke="#333" stroke-width="0.7"/>
<polygon points="853.4,547.7 844.9,544.7 842.2,552.2 850.6,555.3" fill="#f2f2f2" stroke="#222" stroke-width="0.8" stroke-linejoin="round"/>
<ellipse cx="843.5" cy="548.4" rx="2.2" ry="4.0" transform="rotate(200 843.5 548.4)" fill="#fafafa" stroke="#222" stroke-width="0.9"/>
<polygon points="854.7,562.8 844.4,559.0 841.0,568.4 851.3,572.2" fill="#f2f2f2" stroke="#222" stroke-width="0.8" stroke-linejoin="round"/>
<ellipse cx="842.7" cy="563.7" rx="2.8" ry="5.0" transform="rotate(200 842.7 563.7)" fill="#fafafa" stroke="#222" stroke-width="0.9"/>
<polygon points="855.5,553.6 861.6,557.1 864.6,551.9 858.5,548.4" fill="#f2f2f2" stroke="#222" stroke-width="0.8" stroke-linejoin="round"/>
<ellipse cx="863.1" cy="554.5" rx="1.7" ry="3.0" transform="rotate(30 863.1 554.5)" fill="#fafafa" stroke="#222" stroke-width="0.9"/>
<polygon points="851.8,642.9 843.1,637.9 839.5,644.1 848.2,649.1" fill="#f2f2f2" stroke="#222" stroke-width="0.8" stroke-linejoin="round"/>
<ellipse cx="841.3" cy="641.0" rx="2.0" ry="3.6" transform="rotate(210 841.3 641.0)" fill="#222" stroke="#222" stroke-width="0.9"/>
<rect x="861.2" y="520" width="5" height="45" rx="1.2" fill="#d9d6da" stroke="#222" stroke-width="0.8"/>
<line x1="863.2" y1="523" x2="863.2" y2="545" stroke="#555" stroke-width="1.1"/>
<path d="M862.5,556 L867.5,556 L869,584 Q867,588.5 863,587 L860.5,584 Z" fill="#cfcfd2" stroke="#222" stroke-width="0.8"/>
<line x1="862" y1="560" x2="862.5" y2="582" stroke="#333" stroke-width="1.2"/>
<line x1="866" y1="559" x2="867" y2="582" stroke="#555" stroke-width="0.8"/>
<path d="M855.5,548 Q860,550 866,556" fill="none" stroke="#333" stroke-width="0.8"/>
<rect x="860.5" y="553.5" width="7.5" height="4" rx="1" fill="#eee" stroke="#222" stroke-width="0.7"/>
<path d="M819.9,506 L828,506 L828,519 L832,519 L824,527.6 L815.9,519 L819.9,519 Z" fill="#fff" stroke="#333" stroke-width="0.8" stroke-linejoin="round"/>
<circle cx="930" cy="528.8" r="48.8" fill="#fff" stroke="#333" stroke-width="1"/>
<defs><linearGradient id="ci" x1="0" x2="1"><stop offset="0" stop-color="#fdfdfd"/><stop offset="0.35" stop-color="#f0f0f0"/><stop offset="0.55" stop-color="#c8c6c9"/><stop offset="0.8" stop-color="#c4b0c8"/><stop offset="1" stop-color="#b8a4bc"/></linearGradient></defs>
<path d="M898.4,502 Q913,496.5 927.4,502 L927.4,554 Q913,560 898.4,554 Z" fill="url(#ci)" stroke="#333" stroke-width="0.8"/>
<line x1="897.5" y1="528.5" x2="928.8" y2="528.5" stroke="#444" stroke-width="0.6"/>
<rect x="909.8" y="521.6" width="7.2" height="13.8" rx="0.8" fill="#9a9a9a" stroke="#222" stroke-width="0.9"/>
<rect x="911.2" y="523.2" width="4.4" height="5.6" fill="#ddd" stroke="#222" stroke-width="0.5"/>
<rect x="911.2" y="530" width="4.4" height="4" fill="#999" stroke="#222" stroke-width="0.4"/>
<polyline points="937.5,527.5 942.5,527.5 942.5,547.5" fill="none" stroke="#111" stroke-width="2.3" stroke-linejoin="round"/>
<rect x="44.8" y="157.1" width="275.1" height="37.0" fill="#fff" stroke="#555" stroke-width="1.2"/>
<line x1="124" y1="194.1" x2="124" y2="194.1" stroke="#fff" stroke-width="1.7999999999999998"/>
<polyline points="124.0,194.1 185.5,227.5" fill="none" stroke="#222" stroke-width="0.9" stroke-linejoin="round"/>
<polyline points="124.0,194.1 185.5,227.5" fill="none" stroke="#222" stroke-width="0.9" stroke-linejoin="round"/>
<text x="51.5" y="169.7" font-size="9.2" textLength="253.3" lengthAdjust="spacing" fill="#333" stroke="#333" stroke-width="0.1" word-spacing="3.1">Placez la boîte de montage à 750mm de l’emplacement</text>
<text x="51.5" y="178.5" font-size="9.2" textLength="71.7" lengthAdjust="spacingAndGlyphs" fill="#333" stroke="#333" stroke-width="0.1">pour se doucher.</text>
<text x="51.5" y="187.6" font-size="9.2" textLength="218.2" lengthAdjust="spacingAndGlyphs" fill="#333" stroke="#333" stroke-width="0.1">Creusez le trou pour encastrer la boîte de montage.</text>
<rect x="46.4" y="375.4" width="280.7" height="26.9" fill="none" stroke="#555" stroke-width="1.2"/>
<text x="50.4" y="386.8" font-size="9.2" textLength="269.7" lengthAdjust="spacingAndGlyphs" fill="#333" stroke="#333" stroke-width="0.1">Connectez les tuyaux d'eau chaude et d'eau froide à la boîte de</text>
<text x="50.4" y="395.9" font-size="9.2" textLength="265.8" lengthAdjust="spacingAndGlyphs" fill="#333" stroke="#333" stroke-width="0.1">montage encastrée, en vous assurant qu'il n'y ait aucune fuite.</text>
<rect x="18.4" y="789" width="311.1" height="43.3" fill="#fff" stroke="#555" stroke-width="1.2"/>
<line x1="177.5" y1="789" x2="191" y2="789" stroke="#fff" stroke-width="1.7999999999999998"/>
<polyline points="177.5,789.0 171.0,747.0" fill="none" stroke="#222" stroke-width="0.9" stroke-linejoin="round"/>
<polyline points="191.0,789.0 173.5,747.0" fill="none" stroke="#222" stroke-width="0.9" stroke-linejoin="round"/>
<text x="23.6" y="799.4" font-size="9.2" textLength="301.3" lengthAdjust="spacingAndGlyphs" fill="#333" stroke="#333" stroke-width="0.1">Assurez-vous que la boîte de montage est verticale par rapport à vous.</text>
<text x="23.6" y="808.4" font-size="9.2" textLength="302.1" lengthAdjust="spacingAndGlyphs" fill="#333" stroke="#333" stroke-width="0.1">Vissez la boîte de montage avec les 4 vis M8, en veillant à ce que le sol</text>
<text x="23.6" y="818.4" font-size="9.2" textLength="301.7" lengthAdjust="spacingAndGlyphs" fill="#333" stroke="#333" stroke-width="0.1">soit plus haut que la ligne inférieure et plus bas que la ligne médiane</text>
<text x="23.6" y="828" font-size="9.2" textLength="97.0" lengthAdjust="spacingAndGlyphs" fill="#333" stroke="#333" stroke-width="0.1">de la boîte de montage</text>
<rect x="391.5" y="163.3" width="232.0" height="41.6" fill="#fff" stroke="#555" stroke-width="1.2"/>
<line x1="460.5" y1="204.9" x2="495" y2="204.9" stroke="#fff" stroke-width="1.7999999999999998"/>
<polyline points="460.5,204.9 449.5,222.6" fill="none" stroke="#222" stroke-width="0.9" stroke-linejoin="round"/>
<polyline points="495.0,204.9 449.5,222.6" fill="none" stroke="#222" stroke-width="0.9" stroke-linejoin="round"/>
<text x="395.5" y="172" font-size="9.2" textLength="224.0" lengthAdjust="spacingAndGlyphs" fill="#333" stroke="#333" stroke-width="0.1">Retirez le couvercle de la boîte de montage ainsi que</text>
<text x="395.5" y="181.2" font-size="9.2" textLength="201.2" lengthAdjust="spacingAndGlyphs" fill="#333" stroke="#333" stroke-width="0.1">les bouchons des sorties d'eau chaude et d'eau</text>
<text x="395.5" y="190.6" font-size="9.2" textLength="206.7" lengthAdjust="spacingAndGlyphs" fill="#333" stroke="#333" stroke-width="0.1">froide. Coupez la partie supérieure de la boîte de</text>
<text x="395.5" y="200.2" font-size="9.2" textLength="93.2" lengthAdjust="spacingAndGlyphs" fill="#333" stroke="#333" stroke-width="0.1">montage qui dépasse.</text>
<rect x="379.5" y="407.7" width="275.1" height="37.1" fill="none" stroke="#555" stroke-width="1.2"/>
<text x="383.5" y="418.5" font-size="9.2" textLength="229.7" lengthAdjust="spacingAndGlyphs" fill="#333" stroke="#333" stroke-width="0.1">Insérez la colonne inférieur dans le boîte de montage.</text>
<text x="383.5" y="427.9" font-size="9.2" textLength="237.4" lengthAdjust="spacingAndGlyphs" fill="#333" stroke="#333" stroke-width="0.1">Vissez la plaque inférieure à la boîte de montage (4 vis).</text>
<text x="383.5" y="438.0" font-size="9.2" textLength="167.1" lengthAdjust="spacingAndGlyphs" fill="#333" stroke="#333" stroke-width="0.1">Poussez le couvercle pour jusqu’au sol.</text>
<rect x="688" y="270.6" width="298.0" height="68.8" fill="none" stroke="#555" stroke-width="1.2"/>
<text x="693.6" y="285" font-size="9.2" textLength="244.4" lengthAdjust="spacingAndGlyphs" fill="#333" stroke="#333" stroke-width="0.1">Insérez la colonne  supérieure dans la colonne inférieure,</text>
<text x="693.6" y="294.3" font-size="9.2" textLength="281.4" lengthAdjust="spacingAndGlyphs" fill="#333" stroke="#333" stroke-width="0.1">alignez les lignes à l’arrière des deux tuyaux pour qu’elles forment</text>
<text x="693.6" y="303.4" font-size="9.2" textLength="260.9" lengthAdjust="spacingAndGlyphs" fill="#333" stroke="#333" stroke-width="0.1">un rectangle, puis serrez la vis dans la  colonne pour terminer</text>
<text x="693.6" y="312.5" font-size="9.2" textLength="54.4" lengthAdjust="spacingAndGlyphs" fill="#333" stroke="#333" stroke-width="0.1">l’installation.</text>
<text x="693.6" y="330.3" font-size="9.2" textLength="283.9" lengthAdjust="spacingAndGlyphs" fill="#333" stroke="#333" stroke-width="0.1">Connectez la douchette avec le tuyau flexible si votre modèle a un.</text>
<circle cx="24" cy="169.5" r="9" fill="#fff" stroke="#333" stroke-width="1"/>
<text x="24" y="175.26" font-size="16" text-anchor="middle" fill="#1a1a1a" stroke="#1a1a1a" stroke-width="0.1">1</text>
<circle cx="30.5" cy="390" r="9.5" fill="#fff" stroke="#333" stroke-width="1"/>
<text x="30.5" y="395.76" font-size="16" text-anchor="middle" fill="#1a1a1a" stroke="#1a1a1a" stroke-width="0.1">2</text>
<circle cx="29" cy="593" r="9" fill="#fff" stroke="#333" stroke-width="1"/>
<text x="29" y="598.76" font-size="16" text-anchor="middle" fill="#1a1a1a" stroke="#1a1a1a" stroke-width="0.1">3</text>
<circle cx="365" cy="171.5" r="9" fill="#fff" stroke="#333" stroke-width="1"/>
<text x="365" y="177.26" font-size="16" text-anchor="middle" fill="#1a1a1a" stroke="#1a1a1a" stroke-width="0.1">4</text>
<circle cx="364.8" cy="408.7" r="9.3" fill="#fff" stroke="#333" stroke-width="1"/>
<text x="364.8" y="414.46" font-size="16" text-anchor="middle" fill="#1a1a1a" stroke="#1a1a1a" stroke-width="0.1">5</text>
<circle cx="675.5" cy="283" r="11" fill="#fff" stroke="#333" stroke-width="1"/>
<text x="675.5" y="289.48" font-size="18" text-anchor="middle" fill="#1a1a1a" stroke="#1a1a1a" stroke-width="0.1">6</text>
<rect x="25.3" y="213.6" width="119.8" height="14.7" fill="#fff" stroke="#555" stroke-width="1.2"/>
<line x1="107" y1="228.3" x2="137.6" y2="228.3" stroke="#fff" stroke-width="1.7999999999999998"/>
<polyline points="107.0,228.3 160.8,244.0" fill="none" stroke="#222" stroke-width="0.9" stroke-linejoin="round"/>
<polyline points="137.6,228.3 160.8,244.0" fill="none" stroke="#222" stroke-width="0.9" stroke-linejoin="round"/>
<text x="29.6" y="223.7" font-size="9.2" textLength="82.9" lengthAdjust="spacingAndGlyphs" fill="#333" stroke="#333" stroke-width="0.1">Vertical à la douche</text>
<rect x="252" y="208.5" width="68.0" height="10.0" fill="#fff" stroke="#555" stroke-width="1.2"/>
<line x1="252" y1="208.8" x2="252" y2="218.3" stroke="#fff" stroke-width="1.7999999999999998"/>
<polyline points="252.0,208.8 242.0,227.0" fill="none" stroke="#222" stroke-width="0.9" stroke-linejoin="round"/>
<polyline points="252.0,218.3 242.0,227.0" fill="none" stroke="#222" stroke-width="0.9" stroke-linejoin="round"/>
<text x="254.5" y="217.2" font-size="9" textLength="42.5" lengthAdjust="spacingAndGlyphs" fill="#333" stroke="#333" stroke-width="0.1">eau froide</text>
<rect x="54.5" y="307" width="70.5" height="13.5" fill="#fff" stroke="#555" stroke-width="1.2"/>
<line x1="125" y1="307.2" x2="125" y2="313" stroke="#fff" stroke-width="1.7999999999999998"/>
<polyline points="125.0,307.2 143.0,296.5" fill="none" stroke="#222" stroke-width="0.9" stroke-linejoin="round"/>
<polyline points="125.0,313.0 143.0,296.5" fill="none" stroke="#222" stroke-width="0.9" stroke-linejoin="round"/>
<text x="60" y="317" font-size="9" textLength="49.0" lengthAdjust="spacingAndGlyphs" fill="#333" stroke="#333" stroke-width="0.1">eau chaude</text>
<rect x="274.3" y="309.2" width="59.4" height="11.0" fill="#fff" stroke="#555" stroke-width="1.2"/>
<line x1="274.3" y1="309.4" x2="274.3" y2="320" stroke="#fff" stroke-width="1.7999999999999998"/>
<polyline points="274.3,309.4 258.0,292.0" fill="none" stroke="#222" stroke-width="0.9" stroke-linejoin="round"/>
<polyline points="274.3,320.0 258.0,292.0" fill="none" stroke="#222" stroke-width="0.9" stroke-linejoin="round"/>
<text x="277.5" y="317.2" font-size="9" textLength="51.5" lengthAdjust="spacingAndGlyphs" fill="#333" stroke="#333" stroke-width="0.1">face douche</text>
<rect x="37.5" y="525.2" width="87.8" height="22.1" fill="#fff" stroke="#555" stroke-width="1.2"/>
<line x1="90" y1="525.2" x2="105" y2="525.2" stroke="#fff" stroke-width="1.7999999999999998"/>
<polyline points="90.0,525.2 114.0,507.0" fill="none" stroke="#222" stroke-width="0.9" stroke-linejoin="round"/>
<polyline points="105.0,525.2 114.0,507.0" fill="none" stroke="#222" stroke-width="0.9" stroke-linejoin="round"/>
<text x="50.8" y="538.5" font-size="9.2" textLength="51.8" lengthAdjust="spacingAndGlyphs" fill="#333" stroke="#333" stroke-width="0.1">4 vis M8*80</text>
<rect x="180.3" y="547.3" width="47.9" height="12.9" fill="#fff" stroke="#555" stroke-width="1.2"/>
<line x1="181" y1="547.3" x2="195" y2="547.3" stroke="#fff" stroke-width="1.7999999999999998"/>
<polyline points="181.0,547.3 182.5,518.5" fill="none" stroke="#222" stroke-width="0.9" stroke-linejoin="round"/>
<polyline points="195.0,547.3 182.5,518.5" fill="none" stroke="#222" stroke-width="0.9" stroke-linejoin="round"/>
<text x="183" y="557" font-size="7" textLength="41.0" lengthAdjust="spacingAndGlyphs" font-weight="bold" fill="#333">145*145mm</text>
<rect x="139.2" y="605" width="57.0" height="11.5" fill="#fff" stroke="#555" stroke-width="1.2"/>
<text x="142.5" y="614" font-size="9.2" textLength="50.5" lengthAdjust="spacingAndGlyphs" fill="#333" stroke="#333" stroke-width="0.1">ligne milieu</text>
<rect x="139.2" y="633.2" width="57.0" height="11.8" fill="#fff" stroke="#555" stroke-width="1.2"/>
<text x="142.5" y="642.2" font-size="9.2" textLength="53.0" lengthAdjust="spacingAndGlyphs" fill="#333" stroke="#333" stroke-width="0.1">ligne du bas</text>
<rect x="559.8" y="278.8" width="90.6" height="18.2" fill="#fff" stroke="#555" stroke-width="1.2"/>
<line x1="575.2" y1="278.8" x2="586.4" y2="278.8" stroke="#fff" stroke-width="1.7999999999999998"/>
<polyline points="575.2,278.8 548.0,244.0" fill="none" stroke="#222" stroke-width="0.9" stroke-linejoin="round"/>
<polyline points="586.4,278.8 548.0,244.0" fill="none" stroke="#222" stroke-width="0.9" stroke-linejoin="round"/>
<text x="572" y="291.6" font-size="9.2" textLength="59.2" lengthAdjust="spacingAndGlyphs" fill="#333" stroke="#333" stroke-width="0.1">8mm clé allen</text>
<rect x="562.3" y="788.7" width="83.2" height="15.8" fill="#fff" stroke="#555" stroke-width="1.2"/>
<line x1="569.4" y1="788.7" x2="589.2" y2="788.7" stroke="#fff" stroke-width="1.7999999999999998"/>
<polyline points="569.4,788.7 544.2,752.1" fill="none" stroke="#222" stroke-width="0.9" stroke-linejoin="round"/>
<polyline points="589.2,788.7 544.2,752.1" fill="none" stroke="#222" stroke-width="0.9" stroke-linejoin="round"/>
<text x="568" y="800" font-size="9.2" textLength="67.3" lengthAdjust="spacingAndGlyphs" fill="#333" stroke="#333" stroke-width="0.1">5mm 6-clé allen</text>
<rect x="890" y="412.5" width="95.7" height="18.2" fill="#fff" stroke="#555" stroke-width="1.2"/>
<line x1="951.3" y1="430.7" x2="970" y2="430.7" stroke="#fff" stroke-width="1.7999999999999998"/>
<polyline points="951.3,430.7 943.8,480.0" fill="none" stroke="#222" stroke-width="0.9" stroke-linejoin="round"/>
<polyline points="970.0,430.7 943.8,480.0" fill="none" stroke="#222" stroke-width="0.9" stroke-linejoin="round"/>
<text x="900.7" y="425" font-size="9.2" textLength="68.0" lengthAdjust="spacingAndGlyphs" fill="#333" stroke="#333" stroke-width="0.1">2.5mm clé allen</text>
</svg>
</body></html>
